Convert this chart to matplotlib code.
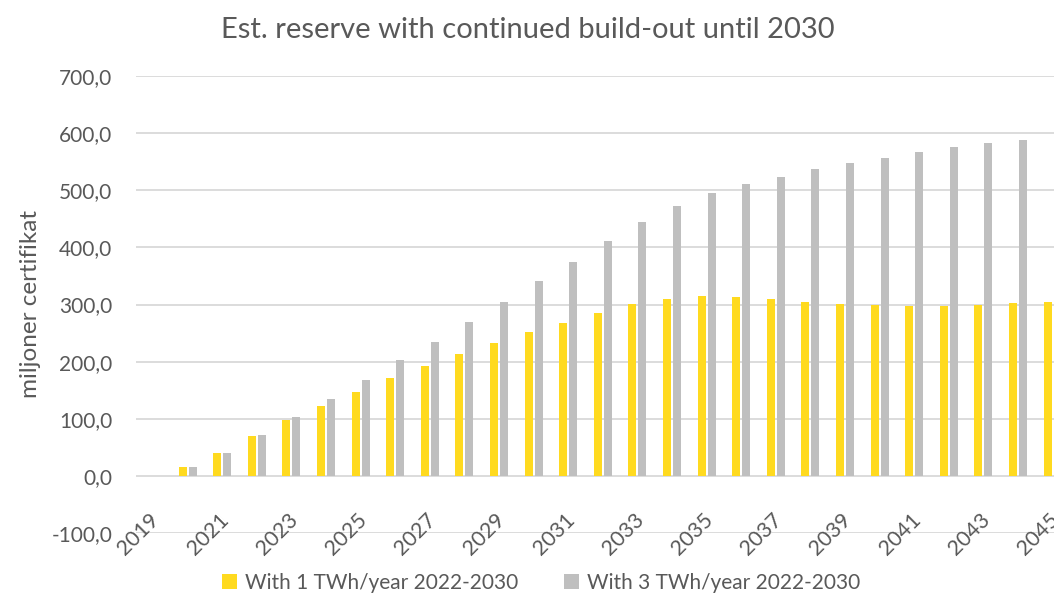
import numpy as np
import matplotlib
matplotlib.use('Agg')
import matplotlib.pyplot as plt

years = list(range(2019, 2046))
# miljoner certifikat
with_1twh = [0, 16, 40, 69, 97, 123, 147, 171, 192, 214, 233, 251, 268, 285, 301,
             310, 315, 313, 309, 305, 301, 299, 298, 298, 299, 302, 304]
with_3twh = [0, 16, 40, 71, 103, 135, 168, 202, 235, 269, 304, 341, 375, 411, 445,
             473, 495, 511, 524, 537, 548, 557, 567, 575, 582, 588, 592]
series_names = ['With 1 TWh/year 2022-2030', 'With 3 TWh/year 2022-2030']

plt.rcParams['font.family'] = ['Lato', 'DejaVu Sans']
txt_col = '#595959'
yellow = '#FFDA1F'
grey = '#BFBFBF'

fig = plt.figure(figsize=(10.54, 5.96), dpi=100)
ax = fig.add_axes([136/1054, 1-533/596, 1-136/1054, (533-76)/596])

x = np.arange(len(years))
w = 0.23
ax.bar(x - 0.145, with_1twh, w, color=yellow, label=series_names[0], zorder=3)
ax.bar(x + 0.145, with_3twh, w, color=grey, label=series_names[1], zorder=3)

ax.set_xlim(-0.49, 26.04)
ax.set_ylim(-100, 700)
ax.set_yticks(range(-100, 701, 100))
ax.set_yticklabels([f'{v:.1f}'.replace('.', ',') for v in range(-100, 701, 100)])
ax.tick_params(axis='y', length=0, pad=17, labelsize=15, colors=txt_col)
ax.set_xticks([])
ax.grid(axis='y', color='#D9D9D9', linewidth=1.3, zorder=0)
for s in ax.spines.values():
    s.set_visible(False)

# category labels sit under the zero line, every other year
for i, yr in enumerate(years):
    if i % 2 == 0:
        ax.text(i - 0.11, -59, str(yr), rotation=45, rotation_mode='anchor',
                ha='right', va='top', fontsize=15.5, color=txt_col, clip_on=False)

ax.set_ylabel('miljoner certifikat', fontsize=17.5, color=txt_col)
ax.yaxis.set_label_coords(-(136-41)/(1054-136), 0.5)

fig.text(528/1054, 1-38/596, 'Est. reserve with continued build-out until 2030',
         ha='center', va='baseline', fontsize=21, color=txt_col)

leg = fig.legend(loc='center', bbox_to_anchor=(541/1054, 1-583/596), ncol=2,
                 frameon=False, fontsize=15, handlelength=0.7, handleheight=0.7,
                 handletextpad=0.4, columnspacing=2.2, labelcolor=txt_col)

fig.savefig('out.png', dpi=100)
